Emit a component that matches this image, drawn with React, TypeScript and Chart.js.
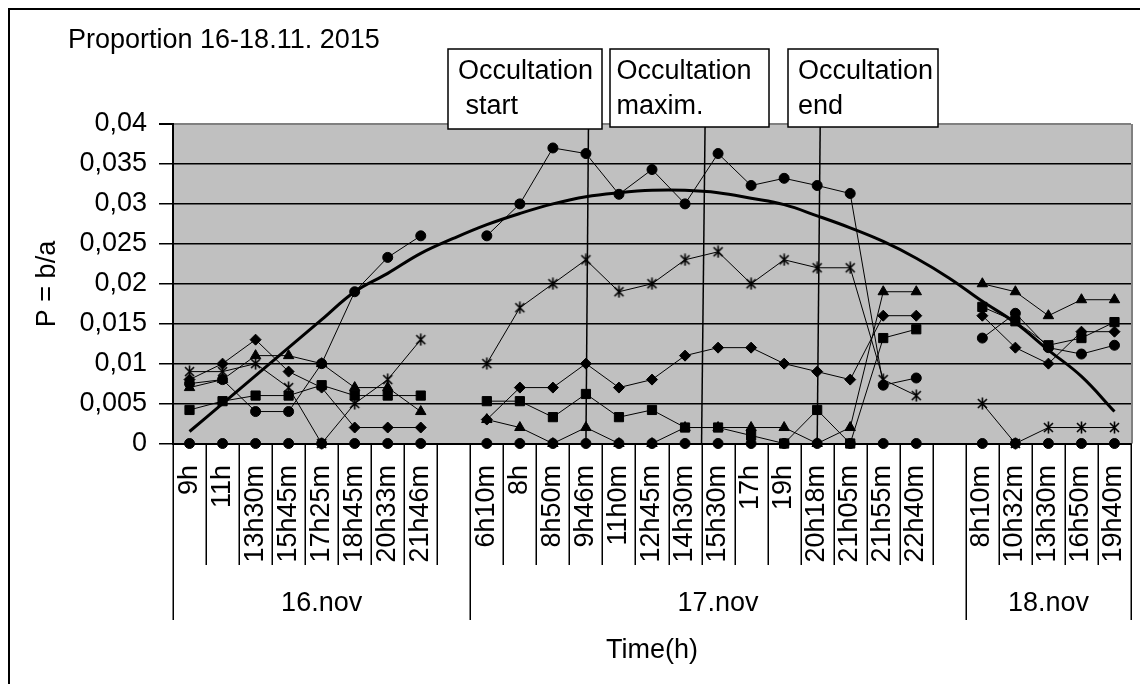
import React, { useEffect, useRef } from 'react';
import { Chart, registerables } from 'chart.js';

Chart.register(...registerables);

const FONT = '"Liberation Sans", Arial, Helvetica, sans-serif';

// ---- data ----
const CATEGORIES = [
  '9h', '11h', '13h30m', '15h45m', '17h25m', '18h45m', '20h33m', '21h46m', '',
  '6h10m', '8h', '8h50m', '9h46m', '11h0m', '12h45m', '14h30m', '15h30m', '17h', '19h', '20h18m', '21h05m', '21h55m', '22h40m', '',
  '8h10m', '10h32m', '13h30m', '16h50m', '19h40m',
];
const DAYS = ['16.nov', '17.nov', '18.nov'];
const DAY_SPANS = [[0, 9], [9, 24], [24, 29]];

const CIRCLE_ZERO = [
  0, 0, 0, 0, 0, 0, 0, 0, null,
  0, 0, 0, 0, 0, 0, 0, 0, 0, 0, 0, 0, 0, 0, null,
  0, 0, 0, 0, 0,
];
const CIRCLE_HIGH = [
  0.0075, 0.008, 0.004, 0.004, 0.010, 0.019, 0.0233, 0.026, null,
  0.026, 0.030, 0.037, 0.0363, 0.0312, 0.0343, 0.030, 0.0363, 0.0323, 0.0332, 0.0323, 0.0313, 0.0073, 0.0082, null,
  0.0132, 0.0163, 0.012, 0.0112, 0.0123,
];
const DIAMOND = [
  0.008, 0.010, 0.013, 0.009, 0.007, 0.002, 0.002, 0.002, null,
  0.003, 0.007, 0.007, 0.010, 0.007, 0.008, 0.011, 0.012, 0.012, 0.010, 0.009, 0.008, 0.016, 0.016, null,
  0.016, 0.012, 0.010, 0.014, 0.014,
];
const TRIANGLE = [
  0.007, 0.008, 0.011, 0.011, 0.010, 0.007, 0.007, 0.004, null,
  0.003, 0.002, 0, 0.002, 0, 0, 0.002, 0.002, 0.002, 0.002, 0, 0.002, 0.019, 0.019, null,
  0.020, 0.019, 0.016, 0.018, 0.018,
];
const SQUARE = [
  0.0042, 0.0053, 0.006, 0.006, 0.0073, 0.006, 0.006, 0.006, null,
  0.0053, 0.0053, 0.0033, 0.0062, 0.0033, 0.0042, 0.002, 0.002, 0.001, 0, 0.0042, 0, 0.0132, 0.0143, null,
  0.0171, 0.0153, 0.0123, 0.0132, 0.0152,
];
const STAR = [
  0.009, 0.009, 0.010, 0.007, 0, 0.005, 0.008, 0.013, null,
  0.010, 0.017, 0.020, 0.023, 0.019, 0.020, 0.023, 0.024, 0.020, 0.023, 0.022, 0.022, 0.008, 0.006, null,
  0.005, 0, 0.002, 0.002, 0.002,
];
const TREND = [
  0.0015, 0.005, 0.0085, 0.012, 0.0155, 0.019, 0.0213, 0.0238, 0.0257,
  0.0274, 0.0288, 0.030, 0.0309, 0.0314, 0.0317, 0.0317, 0.0314, 0.0307, 0.0299, 0.0285, 0.027, 0.0253, 0.0232, 0.0207,
  0.0178, 0.0151, 0.0117, 0.0084, 0.004,
];

const Y_TICKS = [0, 0.005, 0.01, 0.015, 0.02, 0.025, 0.03, 0.035, 0.04];
const TITLE = 'Proportion 16-18.11. 2015';
const Y_TITLE = 'P = b/a';
const X_TITLE = 'Time(h)';
const OCC_TEXT = [['Occultation', ' start'], ['Occultation', 'maxim.'], ['Occultation', 'end']];
const OCC_AT = [12, 15.5, 19];

function makeStar(): HTMLCanvasElement {
  const c = document.createElement('canvas');
  c.width = 13;
  c.height = 13;
  const g = c.getContext('2d')!;
  g.strokeStyle = '#000';
  g.lineWidth = 1.6;
  g.beginPath();
  g.moveTo(2, 2); g.lineTo(11, 11);
  g.moveTo(11, 2); g.lineTo(2, 11);
  g.moveTo(6.5, 0.5); g.lineTo(6.5, 12.5);
  g.stroke();
  return c;
}

const W = 1132;
const H = 676;

export default function App() {
  const ref = useRef<HTMLCanvasElement | null>(null);

  useEffect(() => {
    if (!ref.current) return;
    const star = makeStar();

    const boxes = [
      { x: 440, y: 41, w: 154, h: 80, tx: 450, dx: 2.5 },
      { x: 602, y: 41, w: 159, h: 78, tx: 608.5, dx: 3.5 },
      { x: 780, y: 41, w: 150, h: 78, tx: 790, dx: 3 },
    ];

    const plugin = {
      id: 'excelLook',
      beforeDraw(chart: any) {
        const { ctx, chartArea: a } = chart;
        ctx.save();
        ctx.fillStyle = '#fff';
        ctx.fillRect(0, 0, chart.width, chart.height);
        ctx.fillStyle = '#c0c0c0';
        ctx.fillRect(a.left, a.top, a.right - a.left, a.bottom - a.top);
        ctx.restore();
      },
      afterDatasetsDraw(chart: any) {
        const { ctx, chartArea: a } = chart;
        const xs = chart.scales.x;
        ctx.save();
        ctx.strokeStyle = '#000';
        ctx.lineWidth = 1.5;
        OCC_AT.forEach((v, i) => {
          const bx = xs.getPixelForValue(v);
          const b = boxes[i];
          ctx.beginPath();
          ctx.moveTo(bx + b.dx, b.y + b.h);
          ctx.lineTo(bx, a.bottom);
          ctx.stroke();
        });
        ctx.restore();
      },
      afterDraw(chart: any) {
        const { ctx, chartArea: a } = chart;
        const xs = chart.scales.x;
        ctx.save();
        // plot area shadow (right)
        ctx.strokeStyle = '#808080';
        ctx.lineWidth = 2;
        ctx.beginPath();
        ctx.moveTo(a.right + 1, a.top);
        ctx.lineTo(a.right + 1, a.bottom);
        ctx.stroke();

        // category separators
        const n = CATEGORIES.length;
        const cw = (a.right - a.left) / n;
        const groupEdges = new Set<number>();
        DAY_SPANS.forEach(([s, e]) => { groupEdges.add(s); groupEdges.add(e); });
        ctx.strokeStyle = '#000';
        ctx.lineWidth = 1.5;
        for (let i = 0; i <= n; i++) {
          const bx = Math.round(a.left + i * cw) + 0.25;
          ctx.beginPath();
          ctx.moveTo(bx, a.bottom);
          ctx.lineTo(bx, a.bottom + (groupEdges.has(i) ? 176.5 : 121.5));
          ctx.stroke();
        }

        ctx.fillStyle = '#000';
        ctx.font = `27px ${FONT}`;
        // rotated category labels
        CATEGORIES.forEach((lab, i) => {
          if (!lab) return;
          const cx = xs.getPixelForValue(i);
          ctx.save();
          ctx.translate(cx, a.bottom + 21.5);
          ctx.rotate(-Math.PI / 2);
          ctx.textAlign = 'right';
          ctx.textBaseline = 'alphabetic';
          ctx.fillText(lab, 0, 7);
          ctx.restore();
        });

        // day labels
        ctx.textAlign = 'center';
        ctx.textBaseline = 'middle';
        DAY_SPANS.forEach(([s, e], k) => {
          const cx = (a.left + s * cw + a.left + e * cw) / 2;
          ctx.fillText(DAYS[k], cx, 596);
        });
        // x title
        ctx.fillText(X_TITLE, (a.left + a.right) / 2, 643);

        // y title
        ctx.save();
        ctx.translate(40, 276);
        ctx.rotate(-Math.PI / 2);
        ctx.textAlign = 'center';
        ctx.textBaseline = 'middle';
        ctx.fillText(Y_TITLE, 0, 0);
        ctx.restore();

        // chart title
        ctx.textAlign = 'left';
        ctx.textBaseline = 'middle';
        ctx.fillText(TITLE, 60, 33);

        // occultation boxes
        boxes.forEach((b, i) => {
          ctx.fillStyle = '#fff';
          ctx.fillRect(b.x, b.y, b.w, b.h);
          ctx.strokeStyle = '#000';
          ctx.lineWidth = 1.5;
          ctx.strokeRect(b.x, b.y, b.w, b.h);
          ctx.fillStyle = '#000';
          ctx.textAlign = 'left';
          ctx.textBaseline = 'middle';
          ctx.fillText(OCC_TEXT[i][0], b.tx, 64);
          ctx.fillText(OCC_TEXT[i][1], b.tx, 99);
        });

        // outer frame
        ctx.strokeStyle = '#000';
        ctx.lineWidth = 2;
        ctx.strokeRect(1, 1, chart.width + 20, chart.height + 20);
        ctx.restore();
      },
    };

    const series = (data: (number | null)[], style: any, radius: number) => ({
      data,
      borderColor: '#000',
      backgroundColor: '#000',
      borderWidth: 1,
      pointStyle: style,
      pointRadius: radius,
      pointBorderWidth: 1,
      pointBackgroundColor: '#000',
      pointBorderColor: '#000',
      tension: 0,
      spanGaps: false,
      clip: false as any,
    });

    const chart = new Chart(ref.current, {
      type: 'line',
      data: {
        labels: CATEGORIES,
        datasets: [
          series(CIRCLE_ZERO, 'circle', 5),
          series(CIRCLE_HIGH, 'circle', 5),
          series(DIAMOND, 'rectRot', 5.5),
          series(TRIANGLE, 'triangle', 6),
          series(SQUARE, 'rect', 6.5),
          series(STAR, star, 6),
          {
            data: TREND,
            borderColor: '#000',
            borderWidth: 3,
            pointRadius: 0,
            tension: 0.4,
            fill: false,
            clip: false as any,
          },
        ],
      },
      options: {
        responsive: false,
        animation: false,
        devicePixelRatio: 1,
        layout: { padding: { top: 116, right: 9, left: 0, bottom: 0 } },
        plugins: {
          legend: { display: false },
          tooltip: { enabled: false },
          title: { display: false },
        },
        scales: {
          x: {
            type: 'category',
            offset: true,
            grid: { display: false },
            ticks: { display: false },
            border: { display: true, color: '#000', width: 2 },
            afterFit: (s: any) => { s.height = 240.5; },
          },
          y: {
            min: 0,
            max: 0.04,
            afterBuildTicks: (s: any) => { s.ticks = Y_TICKS.map((v) => ({ value: v })); },
            ticks: {
              color: '#000',
              font: { family: FONT, size: 27 },
              padding: 12,
              callback: (v: any) => {
                const s = Number(v).toFixed(3).replace(/0+$/, '').replace(/\.$/, '');
                return s.replace('.', ',');
              },
            },
            grid: {
              color: (c: any) => (c.tick && Math.abs(c.tick.value - 0.04) < 1e-9 ? '#808080' : '#000'),
              lineWidth: (c: any) => (c.tick && Math.abs(c.tick.value - 0.04) < 1e-9 ? 2 : 1.5),
              tickColor: '#000',
              tickLength: 14,
              drawTicks: true,
            },
            border: { display: true, color: '#000', width: 2 },
            afterFit: (s: any) => { s.width = 165; },
          },
        },
      },
      plugins: [plugin],
    });

    return () => chart.destroy();
  }, []);

  return (
    <div style={{ position: 'fixed', left: 8, top: 8, width: W, height: H, overflow: 'hidden', background: '#fff' }}>
      <canvas ref={ref} width={W} height={H} style={{ display: 'block', width: W, height: H }} />
    </div>
  );
}
